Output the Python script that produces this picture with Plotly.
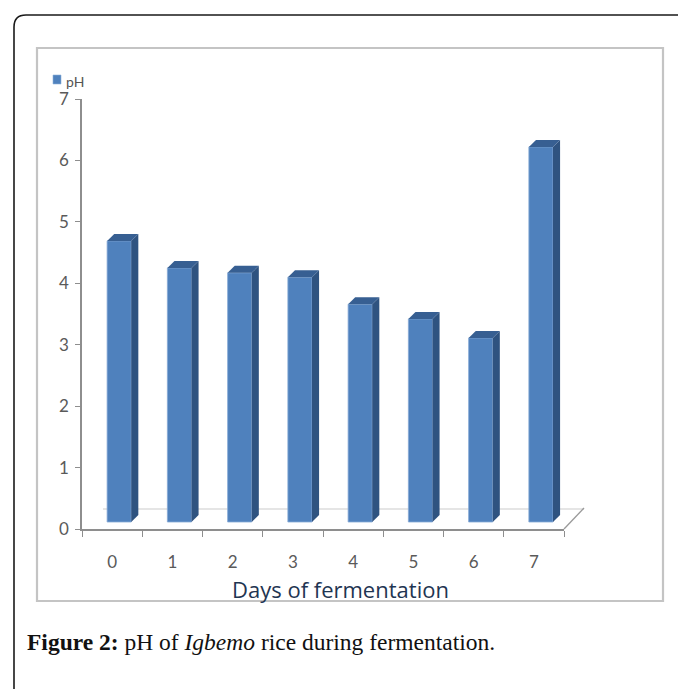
import plotly.graph_objects as go

days = ["0", "1", "2", "3", "4", "5", "6", "7"]
ph = [4.69, 4.25, 4.17, 4.10, 3.66, 3.42, 3.11, 6.22]
y_ticks = [0, 1, 2, 3, 4, 5, 6, 7]

W, H = 678, 689
L, R, T, B = 82, 564, 99, 529
BASE = 0.114          # front face of the 3D bars floats above the axis
BAR_OFF, BAR_W = -0.083, 0.40
DX, DY = 0.118, 0.114 # 3D depth in data units

def fx(x): return (x - L) / (R - L)
def fy(y): return (B - y) / (B - T)
def pt(x, y): return f"{fx(x):.5f},{fy(y):.5f}"

shapes = []
# outer card and inner chart panel
shapes.append(dict(type="path", xref="paper", yref="paper", layer="below",
                   path=f"M {pt(690, 15)} L {pt(26, 15)} Q {pt(14, 15)} {pt(14, 27)} L {pt(14, 700)}",
                   line=dict(color="#1a1a1a", width=1.6)))
shapes.append(dict(type="path", xref="paper", yref="paper", layer="below",
                   path=f"M {pt(37, 48)} L {pt(663, 48)} L {pt(663, 601)} L {pt(37, 601)} Z",
                   line=dict(color="#c4c4c4", width=2.2), fillcolor="white"))
# floor of the 3D plot
shapes.append(dict(type="path", xref="paper", yref="paper", layer="below",
                   path=f"M {pt(103, 509)} L {pt(584, 509)}",
                   line=dict(color="#dcdcdc", width=1.5)))
shapes.append(dict(type="path", xref="paper", yref="paper", layer="below",
                   path=f"M {pt(564, 529)} L {pt(584, 508)}",
                   line=dict(color="#9a9a9a", width=1.3)))
# legend key
shapes.append(dict(type="rect", xref="paper", yref="paper", layer="above",
                   x0=fx(53), x1=fx(61), y0=fy(84), y1=fy(75),
                   fillcolor="#4f81bd", line=dict(color="#8fb1da", width=0.6)))

# side and top faces of every bar, from the values
for i, v in enumerate(ph):
    x0, x1 = i + BAR_OFF, i + BAR_OFF + BAR_W
    shapes.append(dict(type="path", xref="x", yref="y", layer="above",
                       path=f"M {x1},{BASE} L {x1 + DX},{BASE + DY} L {x1 + DX},{v + DY} L {x1},{v} Z",
                       fillcolor="#2f5380", line=dict(width=0)))
    shapes.append(dict(type="path", xref="x", yref="y", layer="above",
                       path=f"M {x0},{v} L {x0 + DX},{v + DY} L {x1 + DX},{v + DY} L {x1},{v} Z",
                       fillcolor="#375f92", line=dict(width=0)))

fig = go.Figure(go.Bar(
    x=days, y=[v - BASE for v in ph], base=BASE, name="pH",
    width=BAR_W, offset=BAR_OFF,
    marker=dict(color="#4f81bd", line=dict(color="#86a9d6", width=0.8)),
))

axis_font = dict(family="Lato", size=17, color="#5a5a5a")
fig.update_layout(
    width=W, height=H, autosize=False, showlegend=False,
    margin=dict(l=L, r=W - R, t=T, b=H - B, pad=0),
    paper_bgcolor="white", plot_bgcolor="rgba(0,0,0,0)",
    shapes=shapes,
    xaxis=dict(type="category", range=[-0.5, 7.5], tickson="boundaries",
               ticks="outside", ticklen=6, tickcolor="#8e8e8e", tickwidth=1.3,
               showline=True, linecolor="#8e8e8e", linewidth=1.6, showgrid=False,
               tickfont=axis_font, ticklabelstandoff=17, zeroline=False),
    yaxis=dict(range=[0, 7], tickvals=y_ticks, ticks="outside", ticklen=5,
               tickcolor="#8e8e8e", tickwidth=1.3, showline=True, linecolor="#8e8e8e",
               linewidth=1.6, showgrid=False, zeroline=False, tickfont=axis_font,
               ticklabelstandoff=3),
    annotations=[
        dict(text="pH", xref="paper", yref="paper", x=fx(64), y=fy(81),
             xanchor="left", yanchor="middle", showarrow=False,
             font=dict(family="Lato", size=14, color="#555555")),
        dict(text="Days of fermentation", xref="paper", yref="paper",
             x=fx(340), y=fy(589), xanchor="center", yanchor="middle",
             showarrow=False, font=dict(family="Open Sans", size=22, color="#1f3552")),
        dict(text="<b>Figure 2:</b> pH of <i>Igbemo</i> rice during fermentation.",
             xref="paper", yref="paper", x=fx(25), y=fy(642),
             xanchor="left", yanchor="middle", showarrow=False,
             font=dict(family="Liberation Serif", size=23.5, color="#111111")),
    ],
)
fig.write_html("out.html", config={"displayModeBar": False},
               post_script="document.body.style.margin='0';document.body.style.overflow='hidden';")
